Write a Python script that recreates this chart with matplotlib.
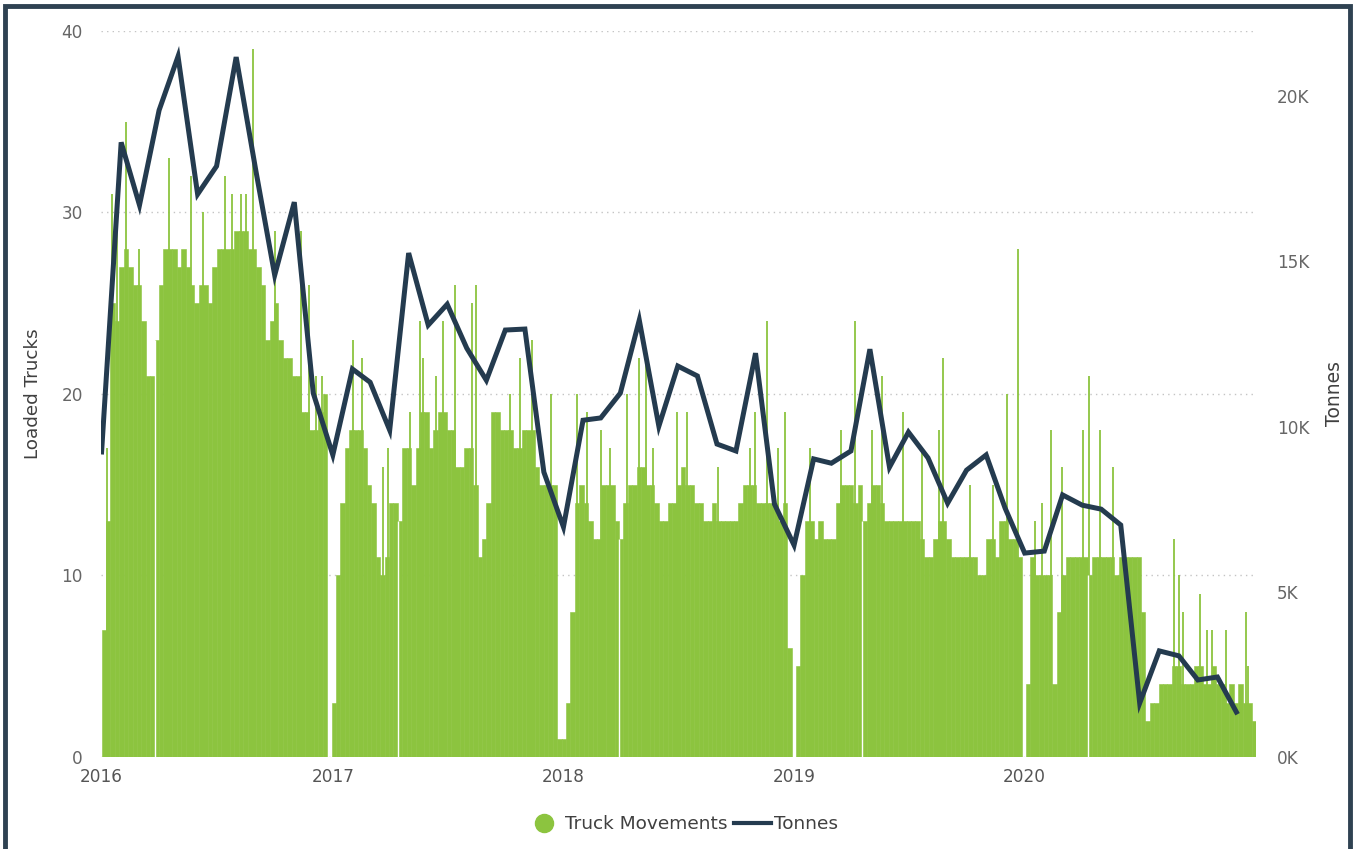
import matplotlib.pyplot as plt
from matplotlib.lines import Line2D
from matplotlib.patches import Rectangle
from matplotlib.ticker import FuncFormatter
import numpy as np
import pandas as pd

plt.rcParams['font.family'] = ['DejaVu Sans']

GREEN = '#8cc43f'
NAVY = '#243b4f'

# loaded trucks per day, typical level for each week (weeks starting 2016-01-01)
trucks_2016 = [7, 13, 25, 24, 27, 28, 27, 26, 26, 24, 21, 21, 23, 26, 28, 28,
               28, 27, 28, 27, 26, 25, 26, 26, 25, 27, 28, 28, 28, 28, 29, 29,
               29, 28, 28, 27, 26, 23, 24, 25, 23, 22, 22, 21, 21, 19, 19, 18,
               18, 19, 20, 0]
trucks_2017 = [3, 10, 14, 17, 18, 18, 18, 17, 15, 14, 11, 10, 11, 14, 14, 13,
               17, 17, 15, 17, 19, 19, 17, 18, 19, 19, 18, 18, 16, 16, 17, 17,
               15, 11, 12, 14, 19, 19, 18, 18, 18, 17, 17, 18, 18, 18, 16, 15,
               15, 15, 15, 1]
trucks_2018 = [1, 3, 8, 14, 15, 14, 13, 12, 12, 15, 15, 15, 13, 12, 14, 15,
               15, 16, 16, 15, 15, 14, 13, 13, 14, 14, 15, 16, 15, 15, 14, 14,
               13, 13, 14, 13, 13, 13, 13, 13, 14, 15, 15, 15, 14, 14, 14, 14,
               14, 13, 14, 6]
trucks_2019 = [0, 5, 10, 13, 13, 12, 13, 12, 12, 12, 14, 15, 15, 15, 14, 15,
               13, 14, 15, 15, 14, 13, 13, 13, 13, 13, 13, 13, 13, 12, 11, 11,
               12, 13, 13, 12, 11, 11, 11, 11, 11, 11, 10, 10, 12, 12, 11, 13,
               13, 12, 12, 11]
trucks_2020 = [0, 4, 11, 10, 10, 10, 10, 4, 8, 10, 11, 11, 11, 11, 11, 10,
               11, 11, 11, 11, 11, 10, 11, 11, 11, 11, 11, 8, 2, 3, 3, 4,
               4, 4, 5, 5, 4, 4, 4, 5, 5, 4, 4, 5, 4, 4, 3, 4,
               3, 4, 3, 3, 2]

# single busy days standing above the weekly level
spike_days = ['2016-01-10', '2016-01-18', '2016-01-26', '2016-02-08', '2016-03-01',
              '2016-04-17', '2016-05-21', '2016-06-10', '2016-07-15', '2016-07-25',
              '2016-08-08', '2016-08-16', '2016-08-28', '2016-10-02', '2016-11-12',
              '2016-11-25', '2016-12-06', '2016-12-15',
              '2017-02-02', '2017-02-16', '2017-03-21', '2017-03-29', '2017-05-03',
              '2017-05-19', '2017-05-23', '2017-06-14', '2017-06-24', '2017-07-13',
              '2017-08-10', '2017-08-15', '2017-10-08', '2017-10-25', '2017-11-13',
              '2017-12-13',
              '2018-01-23', '2018-02-07', '2018-03-01', '2018-03-15', '2018-04-12',
              '2018-05-01', '2018-05-12', '2018-05-22', '2018-06-29', '2018-07-15',
              '2018-09-02', '2018-10-23', '2018-10-31', '2018-11-19', '2018-12-06',
              '2018-12-18',
              '2019-01-26', '2019-03-16', '2019-04-07', '2019-05-04', '2019-05-20',
              '2019-06-22', '2019-07-23', '2019-08-18', '2019-08-24', '2019-10-06',
              '2019-11-12', '2019-12-04', '2019-12-21',
              '2020-01-17', '2020-01-28', '2020-02-11', '2020-02-29', '2020-04-02',
              '2020-04-12', '2020-04-29', '2020-05-19', '2020-08-25', '2020-09-02',
              '2020-09-08', '2020-10-04', '2020-10-15', '2020-10-24', '2020-11-14',
              '2020-12-16', '2020-12-20']
spike_values = [17, 31, 31, 35, 28,
                33, 32, 30, 32, 31,
                31, 31, 39, 29, 29,
                26, 21, 21,
                23, 22, 16, 17, 19,
                24, 22, 21, 24, 26,
                25, 26, 20, 22, 23,
                20,
                20, 19, 18, 17, 20,
                22, 22, 17, 19, 19,
                16, 17, 19, 24, 17,
                19,
                17, 18, 24, 18, 21,
                19, 17, 18, 22, 15,
                15, 20, 28,
                13, 14, 18, 16, 18,
                21, 18, 16, 12, 10,
                8, 9, 7, 7, 7,
                8, 5]

# public holidays with no loading
zero_days = ['2016-03-25', '2017-04-14', '2018-03-30', '2019-04-19', '2020-04-10']

# tonnes per month
tonnes = [9230, 18600, 16700, 19570, 21200, 17030, 17880, 21180, 17760, 14580, 16790, 11010,
          9140, 11740, 11340, 9890, 15250, 13070, 13700, 12370, 11400, 12920, 12950, 8620,
          6960, 10190, 10260, 11010, 13220, 10010, 11830, 11530, 9470, 9260, 12220, 7650,
          6410, 9020, 8890, 9260, 12340, 8770, 9830, 9050, 7680, 8680, 9140, 7530,
          6170, 6230, 7930, 7620, 7500, 7020, 1630, 3210, 3060, 2330, 2420, 1360]

years = ['2016', '2017', '2018', '2019', '2020']

weekly = trucks_2016 + trucks_2017 + trucks_2018 + trucks_2019 + trucks_2020
weeks = pd.date_range('2016-01-01', periods=len(weekly), freq='7D')
weekly_s = pd.Series(weekly, index=weeks)
months = pd.date_range('2016-01-01', periods=len(tonnes), freq='MS')

fig = plt.figure(figsize=(13.55, 8.49), dpi=100)
ax = fig.add_axes([0.0745, 0.1084, 0.8524, 0.8551])

ax.bar(weeks, weekly, width=7, align='edge', color=GREEN, edgecolor=GREEN, linewidth=0.4, zorder=2)
spikes = pd.to_datetime(spike_days)
ax.vlines(spikes, 0, spike_values, color=GREEN, linewidth=1.3, zorder=2)
zd = pd.to_datetime(zero_days)
ax.vlines(zd, 0, [weekly_s.asof(d) for d in zd], color='white', linewidth=1.0, zorder=3)

ax.set_ylim(0, 40)
ax.set_xlim(pd.Timestamp('2015-12-31'), pd.Timestamp('2021-01-01'))
ax.set_yticks([0, 10, 20, 30, 40])
ax.grid(axis='y', color='#c4c4c4', linestyle=(0, (1, 3)), linewidth=1)
ax.set_axisbelow(True)
ax.set_xticks(pd.to_datetime([y + '-01-01' for y in years]))
ax.set_xticklabels(years)
ax.tick_params(axis='both', length=0, labelsize=12.2, colors='#666666')
ax.tick_params(axis='y', pad=13)
ax.tick_params(axis='x', pad=8, colors='#555555')
ax.set_ylabel('Loaded Trucks', fontsize=13.2, color='#404040')
ax.yaxis.set_label_coords(-0.051, 0.5)
for s in ax.spines.values():
    s.set_visible(False)

ax2 = ax.twinx()
ax2.plot(months, tonnes, color=NAVY, linewidth=3.6, solid_joinstyle='miter', zorder=4)
ax2.set_ylim(0, 21970)
ax2.set_yticks([0, 5000, 10000, 15000, 20000])
ax2.yaxis.set_major_formatter(FuncFormatter(lambda v, p: f'{int(v / 1000)}K'))
ax2.tick_params(axis='y', length=0, labelsize=12.2, colors='#666666', pad=15)
ax2.set_ylabel('Tonnes', fontsize=13.5, color='#404040')
ax2.yaxis.set_label_coords(1.0597, 0.5)
for s in ax2.spines.values():
    s.set_visible(False)

handles = [Line2D([], [], marker='o', linestyle='None', markerfacecolor=GREEN,
                  markeredgecolor=GREEN, markersize=13),
           Line2D([], [], color=NAVY, linewidth=3)]
fig.legend(handles, ['Truck Movements', 'Tonnes'], loc='center', ncol=2,
           bbox_to_anchor=(0.503, 0.0294), frameon=False, fontsize=13.3,
           handlelength=2.0, handletextpad=0.15, columnspacing=0.35,
           labelcolor='#404040')

# dark report frame
fig.patches.append(Rectangle((0.0037, -0.02), 0.9926, 1.013, transform=fig.transFigure,
                             fill=False, edgecolor='#2f4252', linewidth=3.5))

fig.savefig('out.png', dpi=100)
